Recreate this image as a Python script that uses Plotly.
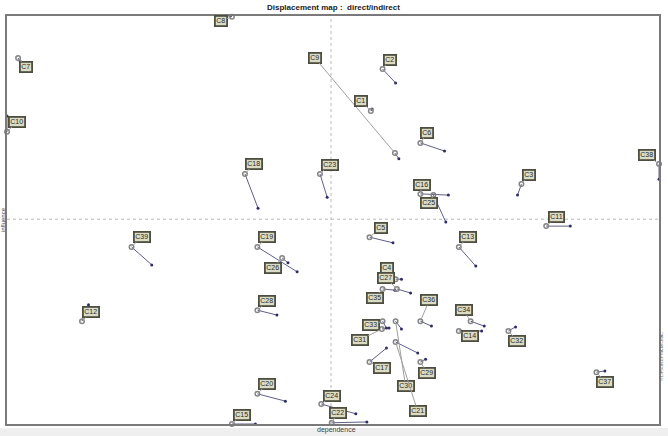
import plotly.graph_objects as go

# ---- data: dependence (x) / influence (y), direct (circle) and indirect (dot) ----
labels = ["C8", "C7", "C10", "C9", "C2", "C1", "C6", "C18", "C23", "C38",
          "C3", "C16", "C25", "C11", "C39", "C19", "C26", "C5", "C13", "C4",
          "C27", "C35", "C36", "C34", "C28", "C12", "C33", "C31", "C14", "C32",
          "C30", "C21", "C17", "C29", "C37", "C20", "C24", "C22", "C15"]
dep_direct = [345, 17, 0, 595, 576, 558, 634, 365, 480, 1000,
              789, 634, 654, 827, 191, 384, 422, 556, 693, 596,
              598, 576, 634, 711, 384, 115, 576, 575, 693, 769,
              596, 596, 556, 634, 904, 384, 482, 498, 345]
inf_direct = [998, 897, 716, 664, 870, 767, 689, 613, 613, 637,
              588, 564, 561, 485, 434, 434, 407, 458, 434, 355,
              331, 331, 252, 252, 279, 252, 252, 233, 228, 228,
              252, 201, 152, 152, 127, 74, 49, 3, 0]
dep_indirect = [342, 20, 0, 601, 596, 560, 671, 385, 491, 1000,
                783, 677, 673, 864, 222, 445, 431, 592, 719, 605,
                619, 595, 651, 732, 414, 125, 582, 586, 728, 780,
                605, 630, 582, 642, 917, 427, 535, 552, 381]
inf_indirect = [1000, 890, 755, 650, 836, 772, 669, 529, 556, 600,
                561, 561, 495, 485, 390, 373, 395, 444, 387, 355,
                321, 328, 240, 240, 267, 292, 235, 235, 228, 238,
                233, 174, 186, 159, 130, 56, 25, 5, 0]
dep_mean = 497
inf_mean = 502

# label offsets in screen pixels (layout only)
label_offsets = {
    "C8": (-11, 4), "C7": (8, 9), "C10": (10, -10), "C9": (-80, -95), "C2": (7, -9),
    "C1": (-10, -10), "C6": (7, -10), "C18": (9, -10), "C23": (10, -9), "C38": (-12, -9),
    "C3": (8, -9), "C16": (2, -9), "C25": (-4, 8), "C11": (10, -9), "C39": (10, -10),
    "C19": (10, -10), "C26": (-9, 10), "C5": (11, -9), "C13": (9, -10), "C4": (-9, -11),
    "C27": (-11, -11), "C35": (-8, 9), "C36": (9, -21), "C34": (-7, -11), "C28": (10, -9),
    "C12": (9, -9), "C33": (-12, 4), "C31": (-22, 11), "C14": (11, 5), "C32": (9, 10),
    "C30": (10, 65), "C21": (22, 69), "C17": (12, 6), "C29": (7, 11), "C37": (9, 10),
    "C20": (10, -10), "C24": (11, -8), "C22": (6, -10), "C15": (10, -9),
}

fig = go.Figure()

# displacement segments
seg_x, seg_y = [], []
for x0, y0, x1, y1 in zip(dep_direct, inf_direct, dep_indirect, inf_indirect):
    seg_x += [x0, x1, None]
    seg_y += [y0, y1, None]
fig.add_trace(go.Scatter(x=seg_x, y=seg_y, mode="lines",
                         line=dict(color="#5f5f86", width=1),
                         hoverinfo="skip", showlegend=False, cliponaxis=False))
fig.add_trace(go.Scatter(x=dep_indirect, y=inf_indirect, mode="markers",
                         marker=dict(color="#2e2e66", size=3),
                         showlegend=False, cliponaxis=False))
fig.add_trace(go.Scatter(x=dep_direct, y=inf_direct, mode="markers",
                         marker=dict(symbol="circle-open", color="#858585", size=4.5,
                                     line=dict(width=1.5, color="#858585")),
                         text=labels, showlegend=False, cliponaxis=False))

annotations = []
for lab, x0, y0 in zip(labels, dep_direct, inf_direct):
    ax, ay = label_offsets[lab]
    annotations.append(dict(
        x=x0, y=y0, xref="x", yref="y", ax=ax, ay=ay, text=lab,
        showarrow=True, arrowhead=0, arrowwidth=1, arrowcolor="#a0a0a0", standoff=2,
        font=dict(family="Liberation Sans", size=7, color="#2a2a2a"),
        bgcolor="#dcdcc4", bordercolor="#4e4e40", borderwidth=1.8, borderpad=0.5,
    ))

annotations += [
    dict(text="<b>Displacement map :  direct/indirect</b>", x=0.5, y=1, xref="paper", yref="paper",
         yshift=9, xshift=0, showarrow=False, yanchor="middle",
         font=dict(family="Liberation Sans Narrow, Liberation Sans", size=8, color="#222")),
    dict(text="dependence", x=0.505, y=0, xref="paper", yref="paper", yshift=-6,
         showarrow=False, yanchor="middle",
         font=dict(family="Liberation Sans", size=7, color="#444")),
    dict(text="influence", x=0, y=0.5, xref="paper", yref="paper", xshift=-4,
         showarrow=False, textangle=-90, xanchor="center",
         font=dict(family="Liberation Sans", size=6, color="#444")),
    dict(text="© LIPSOR-EPITA-MICMAC", x=1, y=0.1, xref="paper", yref="paper", xshift=3,
         showarrow=False, textangle=-90, xanchor="center",
         font=dict(family="Liberation Sans", size=4, color="#666")),
]

fig.update_layout(
    width=668, height=436,
    margin=dict(l=7, r=7, t=16, b=12),
    paper_bgcolor="white", plot_bgcolor="white",
    annotations=annotations,
    shapes=[
        dict(type="rect", xref="paper", yref="paper", x0=-0.02, x1=1.02, y0=-0.03, y1=-0.01,
             line=dict(width=0), fillcolor="#efefef", layer="below"),
        dict(type="line", xref="x", yref="paper", x0=dep_mean, x1=dep_mean, y0=0, y1=1,
             line=dict(color="#b8b8b8", width=1, dash="dot"), layer="below"),
        dict(type="line", xref="paper", yref="y", x0=0, x1=1, y0=inf_mean, y1=inf_mean,
             line=dict(color="#b8b8b8", width=1, dash="dot"), layer="below"),
    ],
    xaxis=dict(range=[0, 1000], showgrid=False, zeroline=False, showticklabels=False,
               ticks="", showline=True, mirror=True, linecolor="#7a7a7a", linewidth=2),
    yaxis=dict(range=[0, 1000], showgrid=False, zeroline=False, showticklabels=False,
               ticks="", showline=True, mirror=True, linecolor="#7a7a7a", linewidth=2),
)

fig.write_html("out.html")
